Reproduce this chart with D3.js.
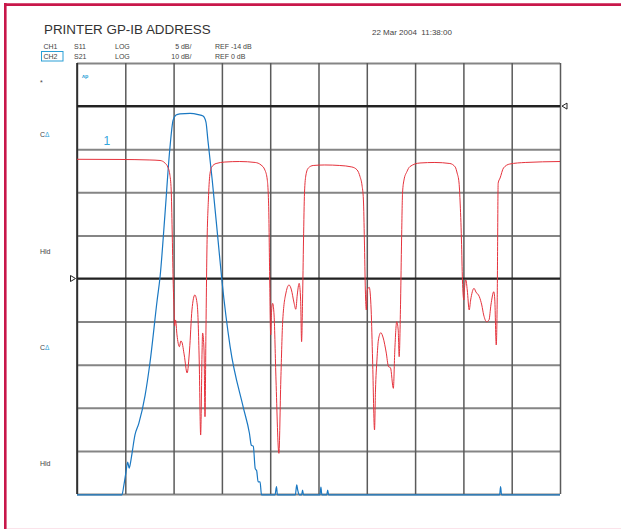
<!DOCTYPE html>
<html>
<head>
<meta charset="utf-8">
<script src="https://cdnjs.cloudflare.com/ajax/libs/d3/7.8.5/d3.min.js"></script>
<style>
  body { margin: 0; background: #fff; }
  svg { display: block; font-family: 'Liberation Sans', Arial, sans-serif; }
</style>
</head>
<body>
<div id="chart"></div>
<script>
// CH1 S11 trace: [grid division, dB]
var s11Points = [
  [0, -0.17], [0.89, -0.19], [1.51, -0.25], [1.72, -0.31], [1.82, -0.6], [1.88, -1.07],
  [1.92, -1.88], [1.95, -3.73], [1.97, -8.37], [1.99, -14.17], [2.01, -17.65], [2.02, -19.51],
  [2.04, -18.81], [2.07, -20.55], [2.12, -21.91], [2.15, -21.25], [2.17, -21.36], [2.22, -22.87],
  [2.28, -24.96], [2.33, -22.3], [2.38, -17.65], [2.44, -15.91], [2.49, -17.07], [2.53, -23.45],
  [2.56, -32.16], [2.59, -22.3], [2.6, -20.32], [2.63, -22.3], [2.65, -30.03], [2.67, -19.97],
  [2.69, -10.69], [2.72, -4.89], [2.75, -1.99], [2.79, -1.06], [2.88, -0.66], [3.06, -0.49],
  [3.37, -0.43], [3.69, -0.54], [3.81, -0.83], [3.89, -1.41], [3.94, -2.57], [3.97, -6.05],
  [3.99, -14.17], [4.01, -20.55], [4.03, -17.65], [4.05, -16.88], [4.08, -18.23], [4.12, -25.77],
  [4.18, -34.28], [4.22, -25.77], [4.26, -18.81], [4.33, -15.57], [4.39, -14.75], [4.44, -15.33],
  [4.49, -16.73], [4.53, -17.57], [4.56, -15.91], [4.6, -14.56], [4.63, -16.49], [4.65, -21.33],
  [4.67, -16.49], [4.69, -9.53], [4.71, -4.08], [4.74, -1.99], [4.79, -1.18], [4.89, -0.89],
  [5.13, -0.83], [5.44, -0.89], [5.69, -1.06], [5.8, -1.41], [5.86, -2.19], [5.9, -3.15],
  [5.93, -4.89], [5.95, -9.53], [5.97, -15.33], [5.99, -17.65], [6.01, -15.33], [6.05, -15.02],
  [6.09, -17.65], [6.12, -23.45], [6.16, -31.57], [6.18, -26.93], [6.21, -23.45], [6.24, -21.13],
  [6.29, -20.29], [6.34, -20.9], [6.4, -22.53], [6.45, -24.23], [6.49, -24.35], [6.55, -26.74],
  [6.58, -22.3], [6.62, -19.01], [6.65, -19.97], [6.67, -23.07], [6.7, -16.49], [6.72, -9.53],
  [6.74, -4.08], [6.77, -2.57], [6.83, -1.61], [6.89, -1.03], [7.1, -0.6], [7.41, -0.54],
  [7.72, -0.66], [7.83, -1.06], [7.87, -1.76], [7.91, -2.92], [7.93, -4.89], [7.96, -9.53],
  [7.98, -14.17], [8.01, -16.49], [8.02, -15.33], [8.05, -14.17], [8.08, -15.33], [8.12, -17.65],
  [8.15, -16.49], [8.22, -15.14], [8.26, -15.57], [8.33, -16.11], [8.38, -17.07], [8.42, -18.23],
  [8.48, -19.01], [8.53, -18.81], [8.57, -17.07], [8.63, -15.53], [8.65, -16.49], [8.68, -21.71],
  [8.7, -16.49], [8.72, -2.92], [8.76, -2.34], [8.83, -1.18], [8.96, -0.72], [9.28, -0.54],
  [10, -0.43]
]

// CH2 S21 trace: [grid division, dB]
var s21Points = [
  [0, -90.2], [0.93, -90.2], [0.97, -88.0], [1.01, -85.2], [1.05, -82.6], [1.08, -84.0],
  [1.11, -82.6], [1.14, -80.5], [1.2, -76.3], [1.28, -73.6], [1.41, -67.1], [1.51, -59.6],
  [1.66, -45.0], [1.72, -39.6], [1.82, -25.3], [1.92, -10.2], [1.99, -3.25], [2.05, -2.09],
  [2.13, -1.81], [2.34, -1.69], [2.51, -1.97], [2.61, -2.32], [2.67, -3.71], [2.71, -7.89],
  [2.8, -17.2], [2.92, -31.1], [3.0, -40.4], [3.17, -55.8], [3.44, -69.8], [3.57, -75.9],
  [3.61, -78.7], [3.65, -78.9], [3.69, -84.1], [3.72, -84.6], [3.75, -87.2], [3.79, -87.2],
  [3.82, -90.2], [4.1, -90.2], [4.13, -88.3], [4.15, -90.2], [4.52, -90.2], [4.55, -87.9],
  [4.57, -89.1], [4.6, -90.2], [4.65, -90.2], [4.67, -89.1], [4.69, -90.2], [5.03, -90.2],
  [5.05, -88.4], [5.07, -90.2], [5.17, -90.2], [5.19, -89.1], [5.21, -90.2], [8.75, -90.2],
  [8.77, -88.3], [8.79, -90.2], [10, -90.2]
]

var divisions = d3.range(0, 11)
var ch1Ticks = d3.range(-39, 12, 5)
var headerRows = [
  ['CH1', 'S11', 'LOG', '5 dB/', 'REF -14 dB'],
  ['CH2', 'S21', 'LOG', '10 dB/', 'REF 0 dB']
]
var sideLabels = ['*', 'C', 'Hld', 'C', 'Hld']

;(function() {
  var margin = { top: 63, left: 77 }
  var width = 483
  var height = 431

  var root = d3
    .select('#chart')
    .append('svg')
    .attr('width', 621)
    .attr('height', 529)

  // page frame
  root.append('line')
    .attr('x1', 5.3).attr('x2', 5.3).attr('y1', 3).attr('y2', 529)
    .attr('stroke', '#c8174a').attr('stroke-width', 2.6)
  root.append('line')
    .attr('x1', 4).attr('x2', 621).attr('y1', 4.6).attr('y2', 4.6)
    .attr('stroke', '#c8174a').attr('stroke-width', 2.6)
  root.append('line')
    .attr('x1', 7).attr('x2', 621).attr('y1', 528.5).attr('y2', 528.5)
    .attr('stroke', '#fbe3ea').attr('stroke-width', 1)

  // header
  root.append('text')
    .attr('x', 44).attr('y', 34)
    .attr('font-size', 13.4)
    .attr('fill', '#333')
    .text('PRINTER GP-IB ADDRESS')
  root.append('text')
    .attr('x', 372).attr('y', 35)
    .attr('font-size', 8)
    .attr('fill', '#444')
    .attr('xml:space', 'preserve')
    .style('white-space', 'pre')
    .text('22 Mar 2004  11:38:00')

  var colX = [43.5, 74, 115, 0, 215]
  var colEnd = [0, 0, 0, 191.5, 0]
  headerRows.forEach(function(row, r) {
    row.forEach(function(t, c) {
      root.append('text')
        .attr('x', c === 3 ? colEnd[c] : colX[c])
        .attr('y', 48.5 + r * 10)
        .attr('font-size', 7)
        .attr('fill', '#444')
        .style('text-anchor', c === 3 ? 'end' : 'start')
        .text(t)
    })
  })
  root.append('rect')
    .attr('x', 41.5).attr('y', 51.5).attr('width', 21.5).attr('height', 9.5)
    .attr('fill', 'none').attr('stroke', '#2a9fd6').attr('stroke-width', 1)

  // left side annotations
  var sideY = [85, 137, 254, 350, 466]
  sideLabels.forEach(function(t, i) {
    var lab = root.append('text')
      .attr('x', 40).attr('y', sideY[i])
      .attr('font-size', 7)
      .attr('fill', '#444')
      .text(t)
    if (t === 'C') {
      lab.append('tspan')
        .attr('fill', '#2a9fd6')
        .attr('font-size', 6.5)
        .text('\u0394')
    }
  })
  root.append('text')
    .attr('x', 82).attr('y', 78)
    .attr('font-size', 5.5)
    .attr('font-weight', 'bold')
    .attr('fill', '#2a9fd6')
    .text('\u028Cp')

  var svg = root.append('g')
    .attr('transform', 'translate(' + margin.left + ',' + margin.top + ')')

  var xPositionScale = d3.scaleLinear().domain([0, 10]).range([0, width])
  var ch1Scale = d3.scaleLinear().domain([-39, 11]).range([height, 0])
  var ch2Scale = d3.scaleLinear().domain([-90, 10]).range([height, 0])

  // grid
  svg.append('g')
    .attr('class', 'grid-y')
    .call(d3.axisLeft(ch1Scale).tickValues(ch1Ticks).tickSize(-width).tickFormat(''))
    .call(g => g.select('.domain').remove())
    .call(g => g.selectAll('line').attr('stroke', '#858585').attr('stroke-width', 2))

  svg.append('g')
    .attr('class', 'grid-x')
    .attr('transform', 'translate(0,' + height + ')')
    .call(d3.axisBottom(xPositionScale).tickValues(divisions).tickSize(-height).tickFormat(''))
    .call(g => g.select('.domain').remove())
    .call(g => g.selectAll('line').attr('stroke', '#5a5a5a').attr('stroke-width', 1.5))

  // reference lines
  svg.append('line')
    .attr('x1', 0).attr('x2', width)
    .attr('y1', ch2Scale(0)).attr('y2', ch2Scale(0))
    .attr('stroke', '#222').attr('stroke-width', 2.2)
  svg.append('line')
    .attr('x1', 0).attr('x2', width)
    .attr('y1', ch1Scale(-14)).attr('y2', ch1Scale(-14))
    .attr('stroke', '#222').attr('stroke-width', 2.2)
  svg.append('line')
    .attr('x1', 0).attr('x2', 0).attr('y1', 0).attr('y2', height)
    .attr('stroke', '#222').attr('stroke-width', 1.5)

  // reference markers
  svg.append('path')
    .attr('d', d3.line()([[width + 2, ch2Scale(0)], [width + 7, ch2Scale(0) - 3], [width + 7, ch2Scale(0) + 3], [width + 2, ch2Scale(0)]]))
    .attr('fill', '#fff').attr('stroke', '#222').attr('stroke-width', 1)
  svg.append('path')
    .attr('d', d3.line()([[-1.5, ch1Scale(-14)], [-6.5, ch1Scale(-14) - 3], [-6.5, ch1Scale(-14) + 3], [-1.5, ch1Scale(-14)]]))
    .attr('fill', '#fff').attr('stroke', '#222').attr('stroke-width', 1)

  // traces
  var s11Line = d3.line()
    .x(d => xPositionScale(d[0]))
    .y(d => ch1Scale(d[1]))
    .curve(d3.curveMonotoneX)
  var s21Line = d3.line()
    .x(d => xPositionScale(d[0]))
    .y(d => ch2Scale(d[1]))
    .curve(d3.curveMonotoneX)

  svg.append('path')
    .datum(s21Points)
    .attr('d', s21Line)
    .attr('fill', 'none')
    .attr('stroke', '#1a78c2')
    .attr('stroke-width', 1.2)

  svg.append('path')
    .datum(s11Points)
    .attr('d', s11Line)
    .attr('fill', 'none')
    .attr('stroke', '#e5323c')
    .attr('stroke-width', 1)

  // marker number
  svg.append('text')
    .attr('x', xPositionScale(0.55))
    .attr('y', 82)
    .attr('font-size', 12)
    .attr('fill', '#33a6dd')
    .text('1')
})()
</script>
</body>
</html>
